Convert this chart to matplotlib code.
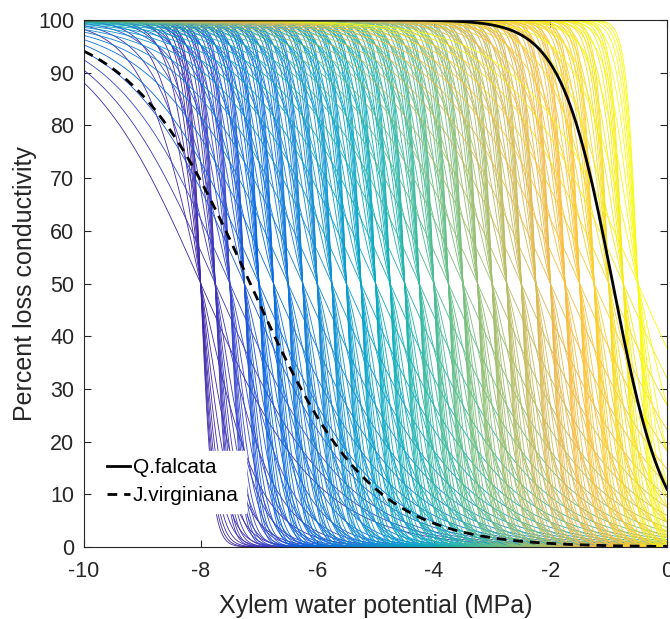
import numpy as np
import matplotlib
matplotlib.use('Agg')
import matplotlib.pyplot as plt
from matplotlib.colors import LinearSegmentedColormap

# P50 of each simulated curve (MPa) and the slopes used for every P50
p50 = [-8.0, -7.75, -7.5, -7.25, -7.0, -6.75, -6.5, -6.25, -6.0, -5.75, -5.5,
       -5.25, -5.0, -4.75, -4.5, -4.25, -4.0, -3.75, -3.5, -3.25, -3.0,
       -2.75, -2.5, -2.25, -2.0, -1.75, -1.5, -1.25, -1.0, -0.75, -0.5]
slopes = [1, 2, 3, 4, 5, 6, 7, 8, 9, 10]

# fitted species curves (P50, slope)
species = ['Q.falcata', 'J.virginiana']
sp_p50 = [-0.93, -7.15]
sp_slope = [2.25, 0.97]

xticks = [-10, -8, -6, -4, -2, 0]
yticks = [0, 10, 20, 30, 40, 50, 60, 70, 80, 90, 100]

# matlab parula, sampled
parula_pts = [(0.2422, 0.1504, 0.6603), (0.2200, 0.2700, 0.8000),
              (0.0117, 0.3875, 0.8820), (0.0498, 0.4586, 0.8641),
              (0.0793, 0.5200, 0.8312), (0.0343, 0.5966, 0.8199),
              (0.0228, 0.6535, 0.7768), (0.0843, 0.6928, 0.7062),
              (0.2178, 0.7250, 0.6193), (0.3953, 0.7459, 0.5244),
              (0.5709, 0.7485, 0.4494), (0.7184, 0.7411, 0.3905),
              (0.8507, 0.7299, 0.3360), (0.9739, 0.7314, 0.2666),
              (0.9955, 0.7861, 0.1967), (0.9589, 0.8949, 0.1132),
              (0.9763, 0.9831, 0.0538)]
pos = [i * 4 / 63 for i in range(16)] + [1.0]
parula = LinearSegmentedColormap.from_list('parula', list(zip(pos, parula_pts)))


def plc(psi, a, b):
    return 100.0 / (1.0 + np.exp(a * (psi - b)))


plt.rcParams['font.family'] = ['Liberation Sans', 'DejaVu Sans']
plt.rcParams['axes.unicode_minus'] = False
fig = plt.figure(figsize=(6.7, 6.19), dpi=100)
ax = fig.add_axes([0.1254, 0.1163, 0.8701, 0.8514])

psi = np.linspace(-10, 0, 1500)
n = len(p50)
for i in range(n):
    col = parula(i / (n - 1))
    for a in slopes:
        ax.plot(psi, plc(psi, a, p50[i]), color=col, lw=0.6)

ax.plot(psi, plc(psi, sp_slope[0], sp_p50[0]), 'k-', lw=2, label=species[0])
ax.plot(psi, plc(psi, sp_slope[1], sp_p50[1]), 'k--', lw=2, dashes=(3.5, 2.5),
        label=species[1])

ax.set_xlim(-10, 0)
ax.set_ylim(0, 100)
ax.set_xticks(xticks)
ax.set_yticks(yticks)
ax.tick_params(axis='both', direction='in', top=True, right=True,
               labelsize=15.5, colors='#262626', length=5, width=0.8)
ax.tick_params(axis='x', pad=10)
ax.tick_params(axis='y', pad=7)
for s in ax.spines.values():
    s.set_color('#262626')
    s.set_linewidth(0.8)
ax.set_xlabel('Xylem water potential (MPa)', fontsize=18, color='#262626',
              labelpad=9)
ax.set_ylabel('Percent loss conductivity', fontsize=18, color='#262626',
              labelpad=1)

leg = ax.legend(loc='lower left', bbox_to_anchor=(0.027, 0.065), borderaxespad=0,
                fontsize=15, handlelength=1.1, handletextpad=0.15,
                frameon=True, fancybox=False, framealpha=1, edgecolor='white',
                borderpad=0.35, labelspacing=0.45)

fig.savefig('out.png', dpi=100)
